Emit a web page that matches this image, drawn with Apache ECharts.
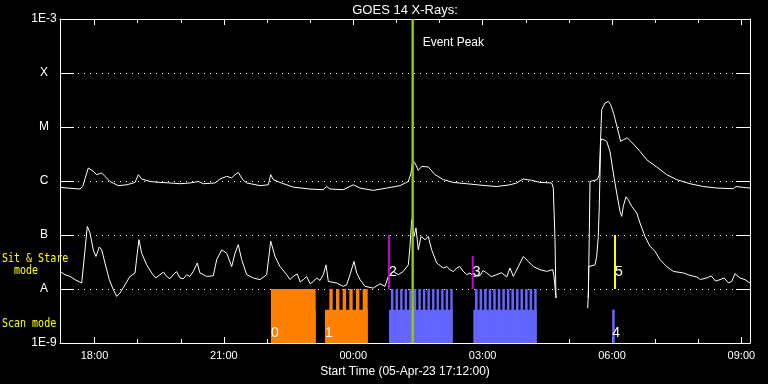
<!DOCTYPE html>
<html><head><meta charset="utf-8">
<script src="https://cdn.jsdelivr.net/npm/echarts@6/dist/echarts.min.js"></script>
<style>html,body{margin:0;padding:0;background:#000;}#c{width:768px;height:384px;}</style>
</head><body><div id="c"></div>
<script>
// ---- Data (time in hours since 05-Apr-23 00:00; flux in W/m^2) ----
const longTime = [17.200,17.664,17.726,17.856,17.972,18.051,18.167,18.243,18.359,18.552,18.747,18.939,19.016,19.094,19.287,19.519,19.751,19.983,20.214,20.407,20.523,20.794,20.910,21.066,21.181,21.258,21.334,21.437,21.529,21.838,22.030,22.086,22.146,22.301,22.610,22.997,23.306,23.384,23.461,23.769,24.001,24.157,24.465,24.776,25.084,25.277,25.339,25.379,25.432,25.509,25.587,25.740,25.896,26.088,26.320,26.631,26.939,27.326,27.635,27.790,27.943,28.138,28.330,28.602,28.639,28.678,28.701,29.000,29.452,29.474,29.490,29.659,29.705,29.761,29.838,29.914,29.970,30.046,30.123,30.202,30.262,30.355,30.417,30.533,30.649,30.804,31.036,31.268,31.500,31.809,32.117,32.428,32.813,32.875,33.045,33.200];
const longFlux = [7.6e-7,7.1e-7,7.9e-7,1.74e-6,1.51e-6,1.31e-6,1.41e-6,1.22e-6,9.8e-7,8.2e-7,8.5e-7,9.4e-7,1.31e-6,1.09e-6,9.8e-7,9.4e-7,9.2e-7,8.9e-7,9.2e-7,9.8e-7,8.9e-7,9.2e-7,1.09e-6,1.22e-6,1.14e-6,1.31e-6,1.44e-6,1.06e-6,9.2e-7,8.2e-7,8.5e-7,1.31e-6,1.06e-6,9.4e-7,7.7e-7,7.1e-7,6.9e-7,7.9e-7,7.1e-7,6.9e-7,8.5e-7,7.4e-7,6.7e-7,7.4e-7,8.2e-7,9.8e-7,1.41e-6,2.31e-6,2.15e-6,1.57e-6,1.86e-6,1.82e-6,1.31e-6,1.06e-6,9.4e-7,8.9e-7,8.4e-7,7.9e-7,8.5e-7,9.2e-7,1.09e-6,1.03e-6,9.4e-7,9.2e-7,7.4e-7,8.2e-8,6.8e-9,null,6.9e-9,1.17e-7,9.8e-7,1.06e-6,1.31e-6,2.09e-5,2.78e-5,2.98e-5,2.59e-5,1.69e-5,9.6e-6,5.4e-6,5.8e-6,6.3e-6,5.6e-6,4.5e-6,3.53e-6,2.48e-6,1.82e-6,1.31e-6,1.06e-6,8.9e-7,7.9e-7,7.4e-7,7.2e-7,7.9e-7,7.6e-7,7.4e-7];

const shortTime = [
  17.200,17.316,17.432,17.548,17.703,17.780,17.833,17.896,17.972,18.035,
  18.111,18.167,18.243,18.343,18.436,18.515,18.591,18.707,18.823,18.939,
  18.992,19.032,19.094,19.210,19.326,19.420,19.519,19.600,19.674,19.750,
  19.827,19.900,19.983,20.060,20.138,20.210,20.291,20.384,20.446,20.602,
  20.755,20.834,20.950,21.066,21.181,21.258,21.334,21.413,21.529,21.682,
  21.838,21.993,22.086,22.186,22.301,22.457,22.530,22.610,22.700,22.770,
  22.842,22.920,23.000,23.074,23.150,23.229,23.306,23.368,23.422,23.616,
  23.769,23.848,23.925,24.017,24.080,24.157,24.272,24.465,24.620,24.736,
  24.813,24.929,25.045,25.161,25.277,25.316,25.355,25.409,25.455,25.509,
  25.571,25.664,25.740,25.819,25.935,26.088,26.170,26.243,26.320,26.399,
  26.470,26.552,26.630,26.707,26.784,26.939,27.010,27.095,27.200,27.326,
  27.440,27.558,27.635,27.712,27.828,27.943,28.059,28.175,28.330,28.486,
  28.625,28.655,28.701,29.000,29.437,29.451,29.460,29.490,29.606,29.645,
  29.682,29.705,29.738,29.761,29.814,29.877,29.954,30.030,30.109,30.186,
  30.225,30.262,30.325,30.378,30.457,30.573,30.649,30.765,30.881,30.997,
  31.113,31.268,31.422,31.654,31.800,31.964,32.050,32.196,32.300,32.400,
  32.504,32.600,32.700,32.776,32.852,32.968,33.084,33.200];
const shortFlux = [
  2.12e-8,1.84e-8,1.71e-8,1.49e-8,1.29e-8,5.3e-8,1.44e-7,1.09e-7,5.3e-8,4.0e-8,
  6.0e-8,5.3e-8,3.03e-8,1.49e-8,9.7e-9,7.3e-9,8.4e-9,1.2e-8,1.71e-8,1.98e-8,
  4.6e-8,8.2e-8,4.6e-8,2.8e-8,1.98e-8,1.6e-8,1.84e-8,2.05e-8,1.71e-8,1.55e-8,
  1.84e-8,2.1e-8,1.6e-8,1.55e-8,1.84e-8,1.7e-8,2.12e-8,3.03e-8,1.98e-8,1.71e-8,
  1.76e-8,3.5e-8,5.3e-8,4.6e-8,2.6e-8,4.6e-8,6.6e-8,3.5e-8,1.84e-8,1.6e-8,
  1.49e-8,1.84e-8,7.7e-8,4.0e-8,2.6e-8,1.84e-8,1.5e-8,1.71e-8,1.9e-8,1.35e-8,
  1.49e-8,1.7e-8,1.25e-8,1.38e-8,1.6e-8,1.44e-8,1.84e-8,2.8e-8,1.38e-8,1.29e-8,
  1.12e-8,1.2e-8,1.84e-8,3.24e-8,1.98e-8,1.49e-8,1.12e-8,1.04e-8,1.25e-8,1.12e-8,
  1.71e-8,2.12e-8,1.84e-8,2.12e-8,2.8e-8,6.2e-8,1.92e-7,9.4e-8,1.35e-7,5.3e-8,
  9.4e-8,8.2e-8,9.4e-8,5.3e-8,3.03e-8,2.45e-8,2.6e-8,2.28e-8,2.1e-8,2.45e-8,
  2.6e-8,2.12e-8,1.85e-8,1.98e-8,1.71e-8,1.76e-8,2.2e-8,1.98e-8,1.7e-8,1.84e-8,
  2.0e-8,1.67e-8,2.45e-8,1.71e-8,2.6e-8,4.0e-8,3.24e-8,2.6e-8,2.28e-8,2.12e-8,
  2.28e-8,1.71e-8,6.8e-9,null,4.4e-9,8.4e-9,2.6e-8,2.8e-8,2.8e-8,4.0e-8,
  9.4e-8,3.4e-7,5.4e-6,6.0e-6,5.8e-6,5.4e-6,3.53e-6,1.41e-6,6.0e-7,2.74e-7,
  2.21e-7,3.39e-7,5.1e-7,4.5e-7,3.39e-7,2.55e-7,1.67e-7,9.4e-8,6.2e-8,5.0e-8,
  3.5e-8,2.6e-8,2.12e-8,1.98e-8,1.8e-8,1.67e-8,1.5e-8,1.6e-8,1.75e-8,1.4e-8,
  1.49e-8,1.6e-8,1.3e-8,1.38e-8,1.92e-8,1.6e-8,1.49e-8,1.29e-8];

// Scan-mode observation blocks
const scanStart = [22.093, 23.345, 24.829, 26.784, 30.003];
const scanEnd   = [23.129, 24.335, 26.306, 28.254, 30.064];
const scanLabel = ['0', '1', '', '', '4'];
const scanKind  = ['orange', 'orange', 'blue', 'blue', 'blue'];
// Individual scan rasters (upper teeth)
const teethStart = [22.093,
  23.445,23.600,23.755,23.908,24.064,24.219,
  24.875,24.981,25.087,25.192,25.298,25.404,25.510,25.615,25.721,25.827,25.933,26.038,26.144,26.250,
  26.823,26.929,27.034,27.140,27.245,27.351,27.456,27.562,27.667,27.773,27.878,27.984,28.089,28.195];
const teethEnd = [23.129,
  23.524,23.679,23.834,23.987,24.143,24.335,
  24.931,25.037,25.143,25.248,25.354,25.460,25.566,25.671,25.777,25.883,25.989,26.094,26.200,26.306,
  26.883,26.989,27.094,27.200,27.305,27.411,27.516,27.622,27.727,27.833,27.938,28.044,28.149,28.254];

// Sit & Stare observations
const ssTime    = [24.829, 26.770, 30.070];
const ssTopFlux = [1.0e-7, 4.1e-8, 1.0e-7];
const ssLabel   = ['2', '3', '5'];
const ssKind    = ['magenta', 'magenta', 'yellow'];

const eventPeak = 25.378;

// Axis ticks
const xMin = 17.2, xMax = 33.2;
const majorHours = [18, 21, 24, 27, 30, 33];
const minorHours = [18,19,20,21,22,23,24,25,26,27,28,29,30,31,32,33];
const yLevelLabels = {'-9':'1E-9','-8':'A','-7':'B','-6':'C','-5':'M','-4':'X','-3':'1E-3'};

// ---- Styling ----
const FONT = 'Liberation Sans';
const MONO = 'DejaVu Sans Mono';
const COLORS = {orange:'#ff8000', blue:'#6464ff', magenta:'#cc00cc', yellow:'#ffff00', event:'#99cc00'};
const LOG_BOTTOM = -9, LOG_TOP = -3, LOG_A = -8;
const SCAN_BASE_TOP = -8.383;

const L = v => (v == null ? '-' : Math.log10(v));
const longData = longTime.map((t, i) => [t, L(longFlux[i])]);
const shortData = shortTime.map((t, i) => [t, L(shortFlux[i])]);

function kindOfTooth(s) {
  for (let j = 0; j < scanStart.length; j++) if (s >= scanStart[j] - 1e-6 && s <= scanEnd[j] + 1e-6) return scanKind[j];
  return 'orange';
}

const chart = echarts.init(document.getElementById('c'), null, {renderer: 'canvas'});
const white = '#ffffff';
const hourFmt = v => String(((v % 24) + 24) % 24).padStart(2, '0') + ':00';

const option = {
  backgroundColor: '#000',
  animation: false,
  grid: {left: 60, top: 19, width: 690, height: 324, show: false},
  xAxis: [
    {type: 'value', min: xMin, max: xMax, position: 'bottom',
     axisLine: {show: true, onZero: false, lineStyle: {color: white, width: 1}},
     axisTick: {show: true, inside: true, length: 6, customValues: majorHours, lineStyle: {color: white}},
     axisLabel: {show: true, customValues: majorHours, formatter: hourFmt, color: white, fontSize: 11, fontFamily: FONT, margin: 7},
     splitLine: {show: false},
     name: 'Start Time (05-Apr-23 17:12:00)', nameLocation: 'middle', nameGap: 21,
     nameTextStyle: {color: white, fontSize: 12, fontFamily: FONT}},
    {type: 'value', min: xMin, max: xMax, position: 'bottom',
     axisLine: {show: false, onZero: false},
     axisTick: {show: true, inside: true, length: 4, customValues: minorHours, lineStyle: {color: white}},
     axisLabel: {show: false}, splitLine: {show: false}},
    {type: 'value', min: xMin, max: xMax, position: 'top',
     axisLine: {show: true, onZero: false, lineStyle: {color: white, width: 1}},
     axisTick: {show: true, inside: true, length: 6, customValues: majorHours, lineStyle: {color: white}},
     axisLabel: {show: false}, splitLine: {show: false}},
    {type: 'value', min: xMin, max: xMax, position: 'top',
     axisLine: {show: false, onZero: false},
     axisTick: {show: true, inside: true, length: 4, customValues: minorHours, lineStyle: {color: white}},
     axisLabel: {show: false}, splitLine: {show: false}}
  ],
  yAxis: [
    {type: 'value', min: LOG_BOTTOM, max: LOG_TOP, interval: 1, position: 'left',
     axisLine: {show: true, onZero: false, lineStyle: {color: white, width: 1}},
     axisTick: {show: true, inside: true, length: 14, lineStyle: {color: white}},
     axisLabel: {show: true, formatter: v => yLevelLabels[String(v)] || '', color: white, fontSize: 12, fontFamily: FONT, align: 'center', margin: 16},
     splitLine: {show: true, lineStyle: {color: white, width: 1, type: [1, 5]}}},
    {type: 'value', min: LOG_BOTTOM, max: LOG_TOP, interval: 1, position: 'right',
     axisLine: {show: true, onZero: false, lineStyle: {color: white, width: 1}},
     axisTick: {show: true, inside: true, length: 14, lineStyle: {color: white}},
     axisLabel: {show: false}, splitLine: {show: false}}
  ],
  graphic: [
    {type: 'text', x: 405, y: 10, z: 10,
     style: {text: 'GOES 14 X-Rays:', fill: white, font: '13px "' + FONT + '"', textAlign: 'center', textVerticalAlign: 'middle'}},
    {type: 'text', x: 2, y: 259, z: 10, scaleY: 1.2,
     style: {text: 'Sit & Stare', fill: '#ffff00', font: '10px "' + MONO + '"', textAlign: 'left', textVerticalAlign: 'middle'}},
    {type: 'text', x: 14, y: 271, z: 10, scaleY: 1.2,
     style: {text: 'mode', fill: '#ffff00', font: '10px "' + MONO + '"', textAlign: 'left', textVerticalAlign: 'middle'}},
    {type: 'text', x: 2, y: 324, z: 10, scaleY: 1.2,
     style: {text: 'Scan mode', fill: '#ffff00', font: '10px "' + MONO + '"', textAlign: 'left', textVerticalAlign: 'middle'}}
  ],
  series: [
    // scan base blocks
    {type: 'custom', xAxisIndex: 0, yAxisIndex: 0, z: 1, clip: true,
     data: scanStart.map((s, i) => [s, scanEnd[i]]),
     renderItem: (params, api) => {
       const i = params.dataIndex;
       const p0 = api.coord([api.value(0), LOG_BOTTOM]);
       const p1 = api.coord([api.value(1), SCAN_BASE_TOP]);
       return {type: 'rect', shape: {x: p0[0], y: p1[1], width: Math.max(p1[0] - p0[0], 1), height: p0[1] - p1[1]},
         style: {fill: COLORS[scanKind[i]]}};
     }},
    // scan teeth
    {type: 'custom', xAxisIndex: 0, yAxisIndex: 0, z: 1, clip: true,
     data: teethStart.map((s, i) => [s, teethEnd[i]]),
     renderItem: (params, api) => {
       const s = api.value(0);
       const p0 = api.coord([s, LOG_BOTTOM]);
       const p1 = api.coord([api.value(1), LOG_A]);
       return {type: 'rect', shape: {x: p0[0], y: p1[1], width: p1[0] - p0[0], height: p0[1] - p1[1]},
         style: {fill: COLORS[kindOfTooth(s)]}};
     }},
    // long channel
    {type: 'line', xAxisIndex: 0, yAxisIndex: 0, z: 3, data: longData, showSymbol: false, symbol: 'none',
     connectNulls: false, lineStyle: {color: white, width: 1}, silent: true},
    // short channel
    {type: 'line', xAxisIndex: 0, yAxisIndex: 0, z: 3, data: shortData, showSymbol: false, symbol: 'none',
     connectNulls: false, lineStyle: {color: white, width: 1}, silent: true},
    // sit & stare markers
    {type: 'custom', xAxisIndex: 0, yAxisIndex: 0, z: 4,
     data: ssTime.map((t, i) => [t, L(ssTopFlux[i])]),
     renderItem: (params, api) => {
       const i = params.dataIndex;
       const pb = api.coord([api.value(0), LOG_A]);
       const pt = api.coord([api.value(0), api.value(1)]);
       return {type: 'rect', shape: {x: pb[0] - 1, y: pt[1], width: 2, height: pb[1] - pt[1]},
         style: {fill: COLORS[ssKind[i]]}};
     }},
    // event peak line
    {type: 'custom', xAxisIndex: 0, yAxisIndex: 0, z: 5,
     data: [[eventPeak]],
     renderItem: (params, api) => {
       const pb = api.coord([api.value(0), LOG_BOTTOM]);
       const pt = api.coord([api.value(0), LOG_TOP]);
       return {type: 'group', children: [
         {type: 'rect', shape: {x: pb[0] - 1.2, y: pt[1], width: 2.4, height: pb[1] - pt[1]}, style: {fill: COLORS.event}},
         {type: 'text', x: pb[0] + 10, y: pt[1] + 24, style: {text: 'Event Peak', fill: white, font: '12px "' + FONT + '"', textAlign: 'left', textVerticalAlign: 'middle'}}
       ]};
     }},
    // observation number labels
    {type: 'custom', xAxisIndex: 0, yAxisIndex: 0, z: 6,
     data: scanStart.map((s) => [s]),
     renderItem: (params, api) => {
       const i = params.dataIndex;
       if (!scanLabel[i]) return null;
       const p = api.coord([api.value(0), LOG_BOTTOM]);
       return {type: 'text', x: p[0], y: p[1] - 10, style: {text: scanLabel[i], fill: white, font: '14px "' + FONT + '"', textAlign: 'left', textVerticalAlign: 'middle'}};
     }},
    {type: 'custom', xAxisIndex: 0, yAxisIndex: 0, z: 6,
     data: ssTime.map((t) => [t]),
     renderItem: (params, api) => {
       const i = params.dataIndex;
       const p = api.coord([api.value(0), LOG_A]);
       return {type: 'text', x: p[0], y: p[1] - 17, style: {text: ssLabel[i], fill: white, font: '14px "' + FONT + '"', textAlign: 'left', textVerticalAlign: 'middle'}};
     }}
  ]
};
chart.setOption(option);
</script>
</body></html>
